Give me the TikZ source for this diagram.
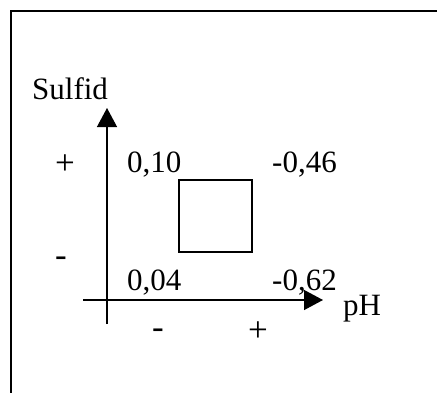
\documentclass[tikz,border=0pt]{standalone}
\usepackage{fontspec}
\setmainfont{Liberation Serif}
\usetikzlibrary{arrows.meta, positioning}

\begin{document}
\begin{tikzpicture}[x=1pt, y=-1pt,
  lbl/.style={anchor=base west, inner sep=0pt, font=\fontsize{31}{36}\selectfont},
  sgn/.style={inner sep=0pt, font=\fontsize{35}{40}\selectfont},
  axis/.style={line width=1.3pt, -{Triangle[length=19pt, width=20pt]}}
]
\useasboundingbox (0,0) rectangle (437,392);
% frame
\draw[line width=1.8pt] (11,395) -- (11,11) -- (440,11);
% axes
\coordinate (yfoot) at (107,324);
\coordinate (ytip) at (107,108);
\coordinate (xfoot) at (83,300);
\coordinate (xtip) at (323,300);
\draw[axis] (yfoot) -- (ytip);
\draw[axis] (xfoot) -- (xtip);
% box
\node[draw, line width=1.3pt, minimum width=73pt, minimum height=72pt, inner sep=0pt] (box) at (215.5,216) {};
% labels
\node[lbl] (sulfid) at (32,99) {Sulfid};
\node[lbl] (ph) at (343,315) {pH};
\node[lbl] (tl) at (127,172) {0,10};
\node[lbl] (tr) at (272,172) {-0,46};
\node[lbl] (bl) at (127,290) {0,04};
\node[lbl] (br) at (272,290) {-0,62};
% signs
\node[sgn] (yplus) at (65,165) {+};
\node[sgn] (yminus) at (61,262) {-};
\node[sgn] (xminus) at (158,334) {-};
\node[sgn] (xplus) at (258,332) {+};
\end{tikzpicture}
\end{document}
